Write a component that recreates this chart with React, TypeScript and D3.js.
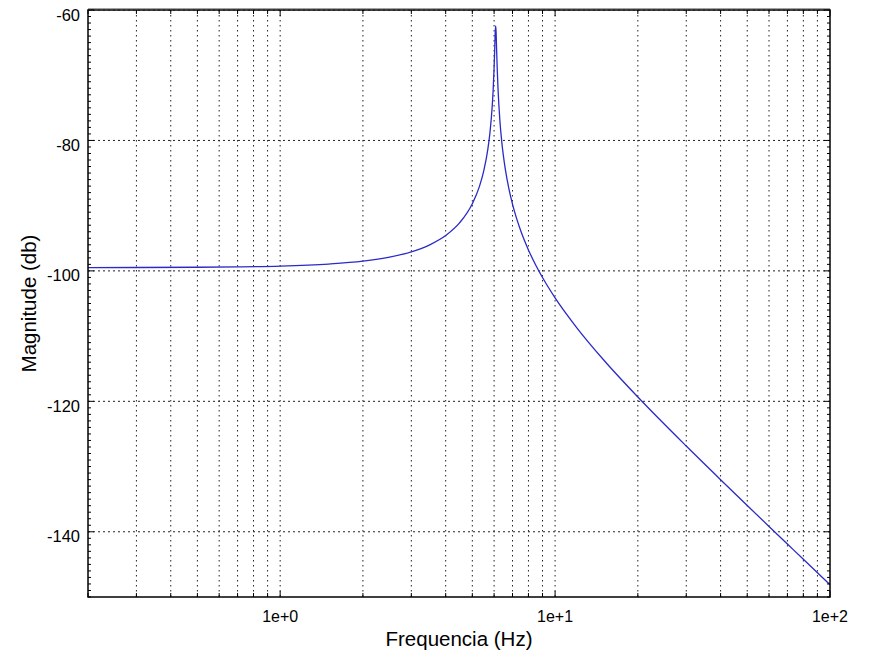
import React from "react";
import * as d3 from "d3";

// Frequency response (Hz, dB)
const freqs = [
  0.2, 0.3, 0.5, 0.7, 1, 1.5, 2, 2.5, 3, 3.5, 4, 4.5, 5, 5.3, 5.5, 5.7, 5.8,
  5.9, 5.95, 6.0, 6.03, 6.06, 6.08, 6.1, 6.13, 6.16, 6.2, 6.3, 6.4, 6.6, 6.8,
  7, 7.5, 8, 8.5, 9, 10, 12, 15, 20, 30, 40, 50, 60, 70, 80, 100,
];
const magnitudes = [
  -99.49, -99.48, -99.44, -99.38, -99.26, -98.95, -98.51, -97.89, -97.08,
  -96.0, -94.58, -92.61, -89.7, -87.12, -84.71, -81.21, -78.68, -75.05,
  -72.46, -68.92, -66.14, -63.26, -62.42, -63.32, -66.24, -69.06, -72.04,
  -77.01, -80.25, -84.56, -87.51, -89.75, -93.85, -96.78, -99.1, -101.02,
  -104.14, -108.73, -113.63, -119.34, -126.86, -132.02, -135.97, -139.18,
  -141.88, -144.22, -148.11,
];
const yTicks = [-140, -120, -100, -80, -60];
const xTicks = [1, 10, 100];
const xTickLabels = ["1e+0", "1e+1", "1e+2"];

const W = 871;
const H = 657;
const margin = { left: 88, right: 41, top: 10, bottom: 60 };
const FONT = "'Liberation Sans', Arial, Helvetica, sans-serif";

export default function App() {
  const x = d3.scaleLog().domain([0.2, 100]).range([margin.left, W - margin.right]);
  const y = d3.scaleLinear().domain([-150, -60]).range([H - margin.bottom, margin.top]);

  const [x0, x1] = x.range();
  const [y0, y1] = y.range();

  // minor x positions: 0.2..0.9, 1..9, 10..100
  const minorX: number[] = [];
  for (let dec = 0.1; dec < 100; dec *= 10) {
    for (let k = 1; k <= 9; k++) {
      const v = +(dec * k).toPrecision(3);
      if (v >= 0.2 && v <= 100) minorX.push(v);
    }
  }
  minorX.push(100);
  const minorY = d3.range(-150, -59, 1);

  const data = freqs.map((f, i) => ({ f, m: magnitudes[i] }));
  const line = d3
    .line<{ f: number; m: number }>()
    .x((d) => x(d.f))
    .y((d) => y(d.m))
    .curve(d3.curveMonotoneX);

  return (
    <svg
      width={W}
      height={H}
      style={{ position: "absolute", left: 0, top: 0, background: "#fff" }}
      fontFamily={FONT}
    >
      {/* vertical grid */}
      {minorX
        .filter((v) => v > 0.2 && v < 100)
        .map((v) => (
          <line
            key={"gx" + v}
            x1={x(v)}
            x2={x(v)}
            y1={y1}
            y2={y0}
            stroke="#222"
            strokeWidth={1}
            strokeDasharray="1.5,3.5"
          />
        ))}
      {/* horizontal grid */}
      {yTicks.map((v) => (
        <line
          key={"gy" + v}
          x1={x0}
          x2={x1}
          y1={y(v)}
          y2={y(v)}
          stroke="#222"
          strokeWidth={1}
          strokeDasharray="2,3"
        />
      ))}

      {/* curve */}
      <path d={line(data) || ""} fill="none" stroke="#2a2ac8" strokeWidth={1.3} />

      {/* frame */}
      <rect
        x={x0}
        y={y1}
        width={x1 - x0}
        height={y0 - y1}
        fill="none"
        stroke="#000"
        strokeWidth={1.5}
      />
      <line x1={x0} x2={x1} y1={y1 - 1} y2={y1 - 1} stroke="#444" strokeWidth={1} />

      {/* minor x ticks */}
      {minorX.map((v) => {
        const major = xTicks.includes(v);
        const len = major ? 6 : 4;
        return (
          <g key={"tx" + v}>
            <line x1={x(v)} x2={x(v)} y1={y0} y2={y0 - len} stroke="#000" />
            <line x1={x(v)} x2={x(v)} y1={y1} y2={y1 + len} stroke="#000" />
          </g>
        );
      })}
      {/* minor y ticks */}
      {minorY.map((v) => {
        const major = yTicks.includes(v);
        const len = major ? 6 : 3;
        return (
          <g key={"ty" + v}>
            <line x1={x0} x2={x0 + len} y1={y(v)} y2={y(v)} stroke="#000" />
            <line x1={x1} x2={x1 - len} y1={y(v)} y2={y(v)} stroke="#000" />
          </g>
        );
      })}

      {/* y tick labels */}
      {yTicks.map((v) => (
        <text
          key={"ly" + v}
          x={x0 - 8}
          y={y(v) + 10.5}
          textAnchor="end"
          fontSize={16.5}
          fill="#000"
        >
          {v}
        </text>
      ))}
      {/* x tick labels */}
      {xTicks.map((v, i) => (
        <text
          key={"lx" + v}
          x={x(v)}
          y={622}
          textAnchor="middle"
          fontSize={16}
          fill="#000"
        >
          {xTickLabels[i]}
        </text>
      ))}

      {/* axis titles */}
      <text
        x={(x0 + x1) / 2}
        y={646}
        textAnchor="middle"
        fontSize={20.5}
        fill="#000"
      >
        Frequencia (Hz)
      </text>
      <text
        transform={`translate(36, ${(y0 + y1) / 2}) rotate(-90)`}
        textAnchor="middle"
        fontSize={20.5}
        fill="#000"
      >
        Magnitude (db)
      </text>
    </svg>
  );
}
